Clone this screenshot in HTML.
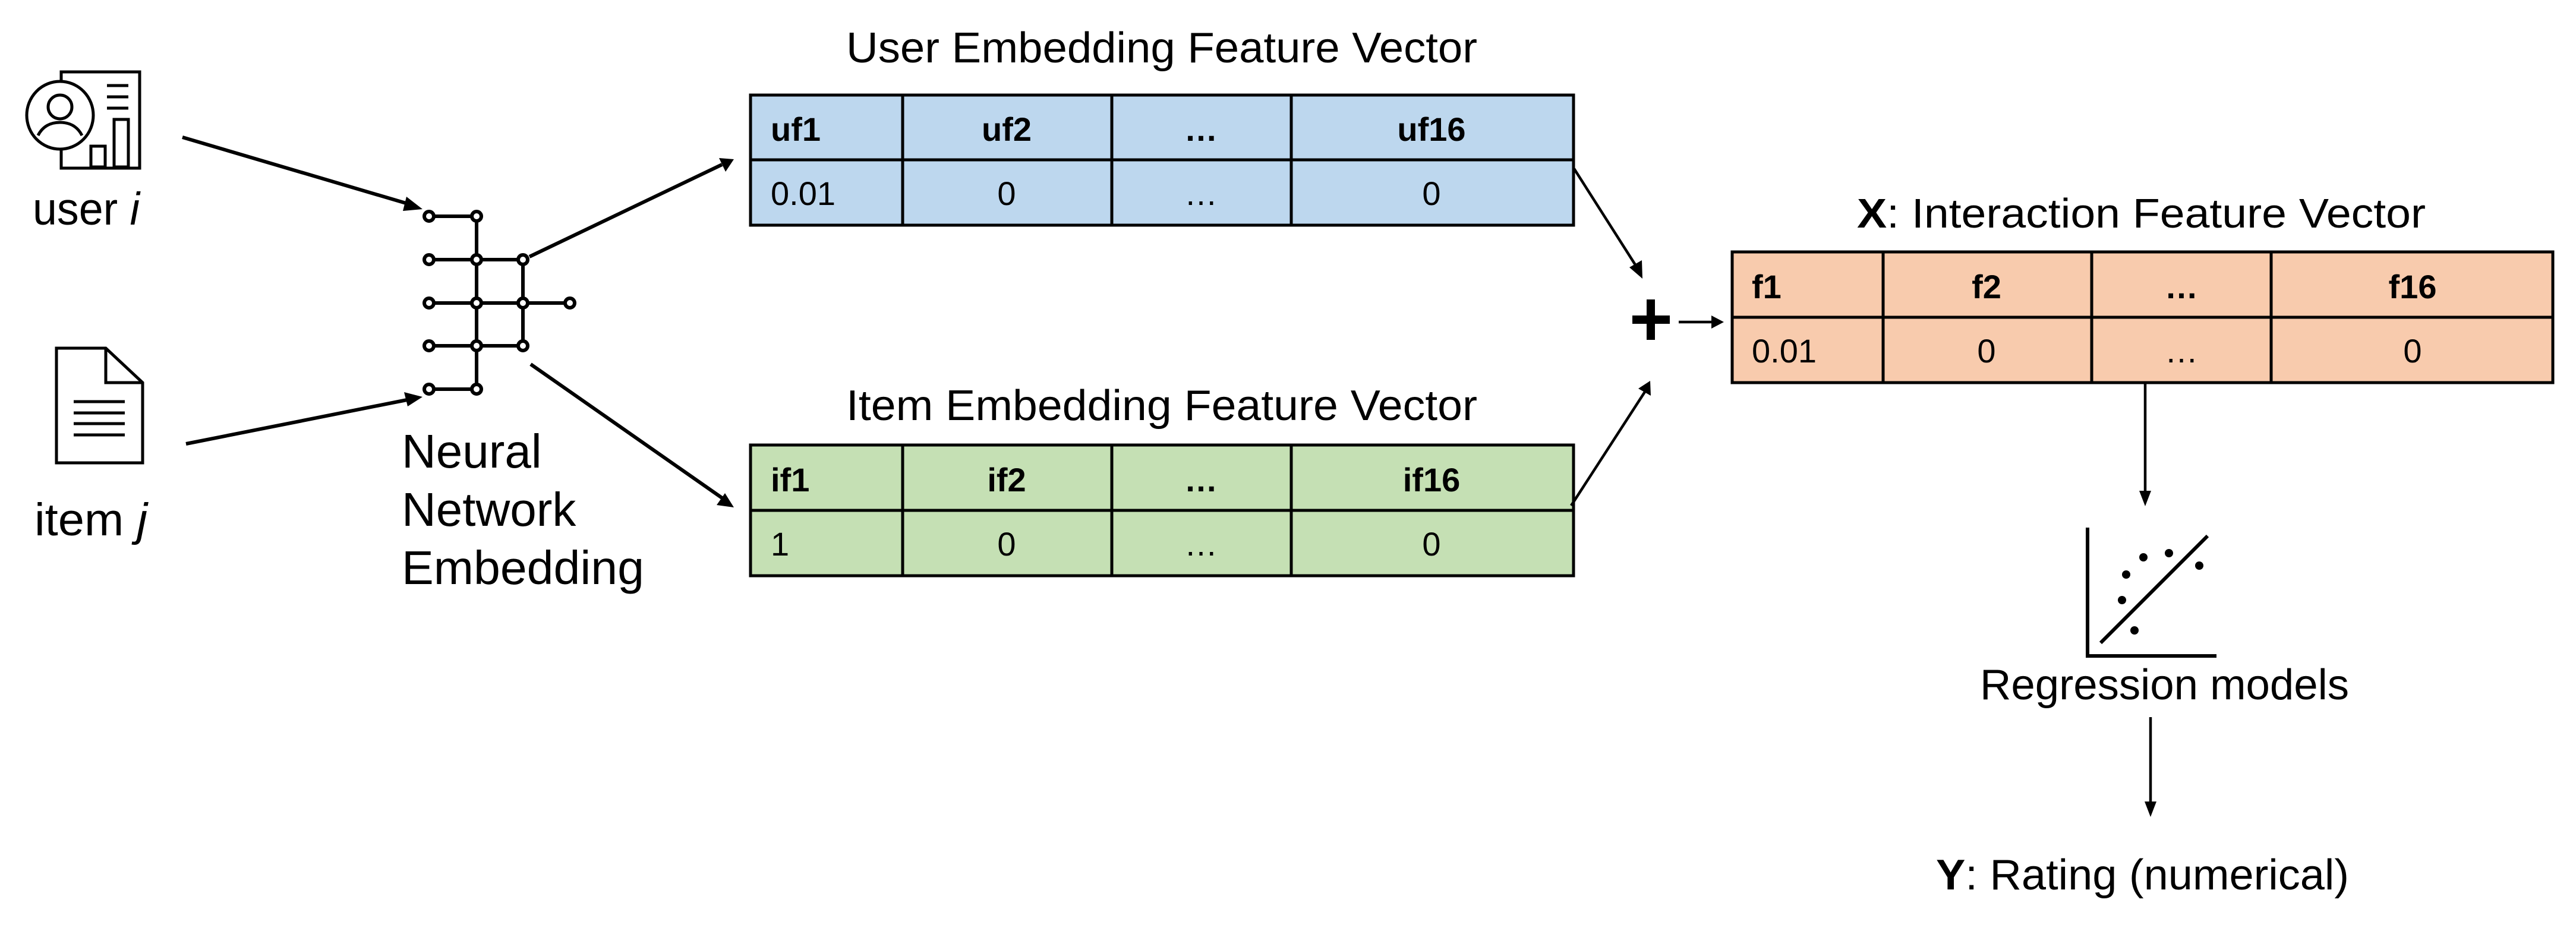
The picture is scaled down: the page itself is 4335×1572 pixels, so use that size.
<!DOCTYPE html>
<html><head><meta charset="utf-8"><style>
html,body{margin:0;padding:0;background:#fff;}
svg{display:block;}
text{font-family:"Liberation Sans",sans-serif;fill:#000;}
</style></head><body>
<svg width="4335" height="1572" viewBox="0 0 4335 1572" xmlns="http://www.w3.org/2000/svg">
<defs>
<marker id="ah" markerWidth="10" markerHeight="8" refX="9" refY="4" orient="auto" markerUnits="userSpaceOnUse" viewBox="0 0 10 8">
</marker>
</defs>
<rect width="4335" height="1572" fill="#fff"/>

<!-- user icon -->
<g fill="none" stroke="#000" stroke-width="5">
<polyline points="103,140 103,121 235,121 235,283 103,283 103,250"/>
<ellipse cx="101" cy="194" rx="56" ry="57" fill="#fff"/>
<circle cx="101" cy="180" r="20"/>
<path d="M64,228 C72,212 86,206 101,206 C116,206 130,212 138,228"/>
<line x1="180" y1="144" x2="216" y2="144"/>
<line x1="180" y1="163" x2="216" y2="163"/>
<line x1="180" y1="182" x2="216" y2="182"/>
<rect x="153" y="246" width="24" height="35"/>
<rect x="192" y="201" width="24" height="80"/>
</g>
<text x="55" y="378" font-size="77" textLength="180" lengthAdjust="spacingAndGlyphs">user <tspan font-style="italic">i</tspan></text>

<!-- item icon -->
<g fill="none" stroke="#000" stroke-width="5">
<path d="M95,586 L178,586 L240,644 L240,779 L95,779 Z"/>
<path d="M178,586 L178,644 L240,644"/>
<line x1="124" y1="676" x2="210" y2="676"/>
<line x1="124" y1="695" x2="210" y2="695"/>
<line x1="124" y1="713" x2="210" y2="713"/>
<line x1="124" y1="732" x2="210" y2="732"/>
</g>
<text x="58" y="901" font-size="77" textLength="190" lengthAdjust="spacingAndGlyphs">item <tspan font-style="italic">j</tspan></text>

<!-- arrows to network -->
<g stroke="#000" stroke-width="6" fill="none">
<line x1="307" y1="231" x2="690" y2="344"/>
<line x1="313" y1="747" x2="690" y2="672"/>
<line x1="891" y1="432" x2="1215" y2="277"/>
<line x1="893" y1="613" x2="1215" y2="838"/>
</g>
<polygon points="711,352 684,331 678,355" fill="#000"/>
<polygon points="711,668 680,660 686,684" fill="#000"/>
<polygon points="1235,268 1210,266 1221,289" fill="#000"/>
<polygon points="1235,854 1220,830 1206,850" fill="#000"/>

<!-- network -->
<g stroke="#000" stroke-width="6" fill="#fff">
<line x1="722" y1="364" x2="802" y2="364"/>
<line x1="722" y1="437" x2="880" y2="437"/>
<line x1="722" y1="510" x2="959" y2="510"/>
<line x1="722" y1="582" x2="880" y2="582"/>
<line x1="722" y1="655" x2="802" y2="655"/>
<line x1="802" y1="364" x2="802" y2="655"/>
<line x1="880" y1="437" x2="880" y2="582"/>
<circle cx="722" cy="364" r="8"/><circle cx="802" cy="364" r="8"/>
<circle cx="722" cy="437" r="8"/><circle cx="802" cy="437" r="8"/><circle cx="880" cy="437" r="8"/>
<circle cx="722" cy="510" r="8"/><circle cx="802" cy="510" r="8"/><circle cx="880" cy="510" r="8"/><circle cx="959" cy="510" r="8"/>
<circle cx="722" cy="582" r="8"/><circle cx="802" cy="582" r="8"/><circle cx="880" cy="582" r="8"/>
<circle cx="722" cy="655" r="8"/><circle cx="802" cy="655" r="8"/>
</g>
<text x="676" y="787" font-size="80">Neural</text>
<text x="676" y="885" font-size="80">Network</text>
<text x="676" y="983" font-size="80" textLength="408" lengthAdjust="spacingAndGlyphs">Embedding</text>

<!-- user table -->
<text x="1955" y="105" font-size="72" text-anchor="middle" textLength="1062" lengthAdjust="spacingAndGlyphs">User Embedding Feature Vector</text>
<g stroke="#000" stroke-width="5">
<rect x="1263" y="160" width="1385" height="219" fill="#bdd7ee"/>
<line x1="1263" y1="269" x2="2648" y2="269"/>
<line x1="1519" y1="160" x2="1519" y2="379"/>
<line x1="1871" y1="160" x2="1871" y2="379"/>
<line x1="2173" y1="160" x2="2173" y2="379"/>
</g>
<g font-size="56">
<text x="1297" y="237" font-weight="bold">uf1</text>
<text x="1694" y="237" font-weight="bold" text-anchor="middle">uf2</text>
<text x="2021" y="237" font-weight="bold" text-anchor="middle">…</text>
<text x="2409" y="237" font-weight="bold" text-anchor="middle">uf16</text>
<text x="1297" y="345">0.01</text>
<text x="1694" y="345" text-anchor="middle">0</text>
<text x="2021" y="345" text-anchor="middle">…</text>
<text x="2409" y="345" text-anchor="middle">0</text>
</g>

<!-- item table -->
<text x="1955" y="707" font-size="72" text-anchor="middle" textLength="1062" lengthAdjust="spacingAndGlyphs">Item Embedding Feature Vector</text>
<g stroke="#000" stroke-width="5">
<rect x="1263" y="749" width="1385" height="220" fill="#c5e0b4"/>
<line x1="1263" y1="859" x2="2648" y2="859"/>
<line x1="1519" y1="749" x2="1519" y2="969"/>
<line x1="1871" y1="749" x2="1871" y2="969"/>
<line x1="2173" y1="749" x2="2173" y2="969"/>
</g>
<g font-size="56">
<text x="1297" y="827" font-weight="bold">if1</text>
<text x="1694" y="827" font-weight="bold" text-anchor="middle">if2</text>
<text x="2021" y="827" font-weight="bold" text-anchor="middle">…</text>
<text x="2409" y="827" font-weight="bold" text-anchor="middle">if16</text>
<text x="1297" y="935">1</text>
<text x="1694" y="935" text-anchor="middle">0</text>
<text x="2021" y="935" text-anchor="middle">…</text>
<text x="2409" y="935" text-anchor="middle">0</text>
</g>

<!-- arrows to plus -->
<g stroke="#000" stroke-width="4.5">
<line x1="2649" y1="284" x2="2756" y2="452"/>
<line x1="2644" y1="851" x2="2769" y2="658"/>
<line x1="2825" y1="542" x2="2885" y2="542"/>
</g>
<polygon points="2764,469 2742,450 2763,438" fill="#000"/>
<polygon points="2777,641 2778,666 2757,654" fill="#000"/>
<polygon points="2901,542 2880,531 2880,553" fill="#000"/>
<rect x="2747" y="531" width="63" height="14" fill="#000"/>
<rect x="2771" y="504" width="14" height="68" fill="#000"/>

<!-- interaction table -->
<text x="3125" y="383" font-size="70" textLength="957" lengthAdjust="spacingAndGlyphs"><tspan font-weight="bold">X</tspan>: Interaction Feature Vector</text>
<g stroke="#000" stroke-width="5">
<rect x="2915" y="424" width="1381" height="220" fill="#f8cbad"/>
<line x1="2915" y1="534" x2="4296" y2="534"/>
<line x1="3169" y1="424" x2="3169" y2="644"/>
<line x1="3520" y1="424" x2="3520" y2="644"/>
<line x1="3822" y1="424" x2="3822" y2="644"/>
</g>
<g font-size="56">
<text x="2948" y="502" font-weight="bold">f1</text>
<text x="3343" y="502" font-weight="bold" text-anchor="middle">f2</text>
<text x="3671" y="502" font-weight="bold" text-anchor="middle">…</text>
<text x="4060" y="502" font-weight="bold" text-anchor="middle">f16</text>
<text x="2948" y="610">0.01</text>
<text x="3343" y="610" text-anchor="middle">0</text>
<text x="3671" y="610" text-anchor="middle">…</text>
<text x="4060" y="610" text-anchor="middle">0</text>
</g>

<!-- down arrows -->
<g stroke="#000" stroke-width="4.5">
<line x1="3610" y1="646" x2="3610" y2="830"/>
<line x1="3619" y1="1207" x2="3619" y2="1355"/>
</g>
<polygon points="3610,852 3600,826 3620,826" fill="#000"/>
<polygon points="3619,1375 3609,1349 3629,1349" fill="#000"/>

<!-- regression icon -->
<g stroke="#000" stroke-width="6" fill="none">
<polyline points="3513,888 3513,1104 3730,1104"/>
<line x1="3535" y1="1082" x2="3715" y2="902"/>
</g>
<g fill="#000">
<circle cx="3607" cy="938" r="7"/><circle cx="3650" cy="931" r="7"/><circle cx="3701" cy="952" r="7"/>
<circle cx="3578" cy="967" r="7"/><circle cx="3571" cy="1010" r="7"/><circle cx="3592" cy="1061" r="7"/>
</g>
<text x="3332" y="1177" font-size="72" textLength="621" lengthAdjust="spacingAndGlyphs">Regression models</text>
<text x="3258" y="1497" font-size="72" textLength="695" lengthAdjust="spacingAndGlyphs"><tspan font-weight="bold">Y</tspan>: Rating (numerical)</text>
</svg>
</body></html>
